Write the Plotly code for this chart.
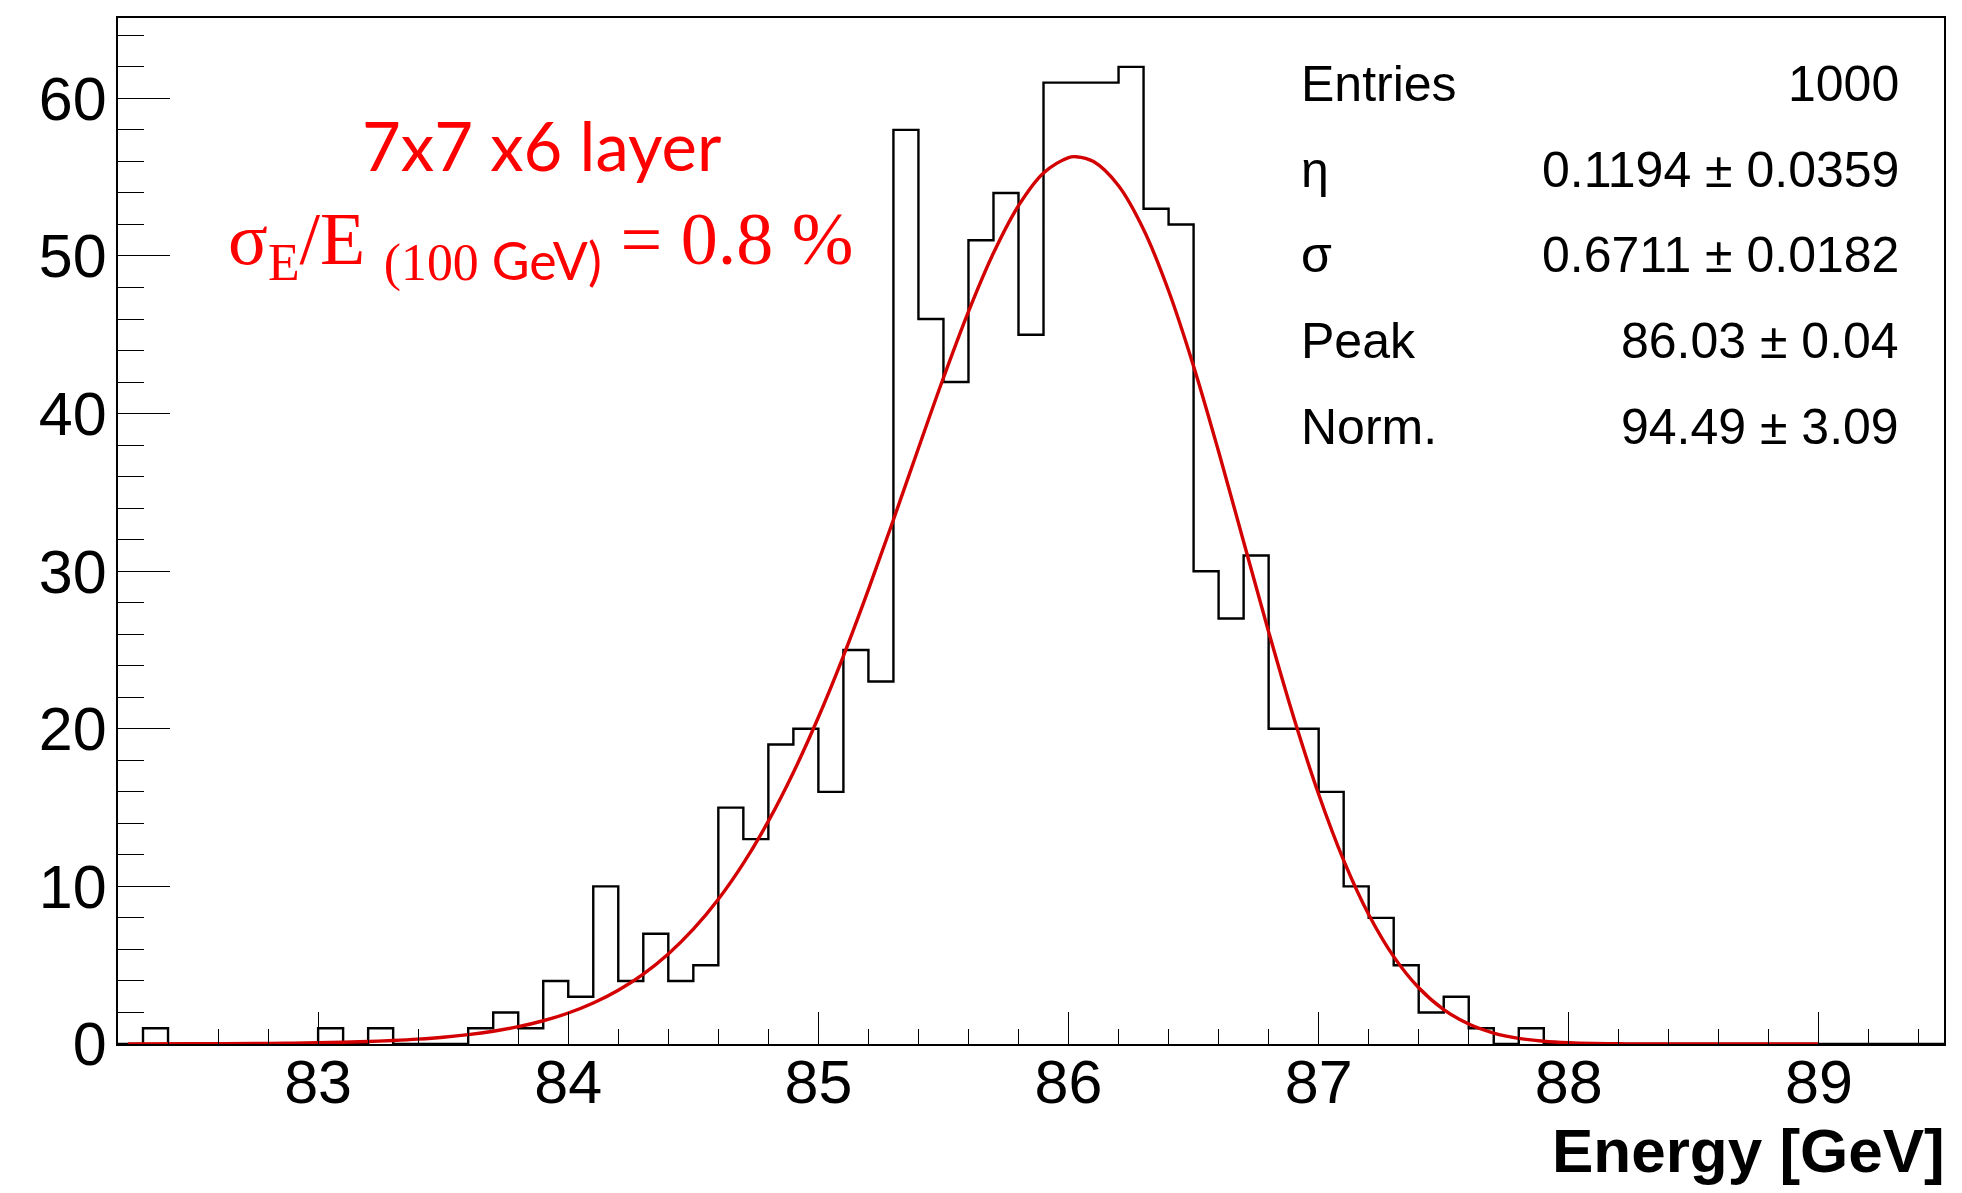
import numpy as np
import plotly.graph_objects as go

# ---------------- data ----------------
BIN_START = 82.2
BIN_WIDTH = 0.1
counts = [0, 1, 0, 0, 0, 0, 0, 0, 1, 0,          # 82.2 - 83.1
          1, 0, 0, 0, 1, 2, 1, 4, 3, 10,         # 83.2 - 84.1
          4, 7, 4, 5, 15, 13, 19, 20, 16, 25,    # 84.2 - 85.1
          23, 58, 46, 42, 51, 54, 45, 61, 61, 61,  # 85.2 - 86.1
          62, 53, 52, 30, 27, 31, 20, 20, 16, 10,  # 86.2 - 87.1
          8, 5, 2, 3, 1, 0, 1, 0, 0, 0,          # 87.2 - 88.1
          0, 0, 0, 0, 0, 0, 0, 0, 0, 0,          # 88.2 - 89.1
          0, 0, 0]                               # 89.2 - 89.4

# fit curve (energy, counts)
fit_x = [82.24, 82.5, 82.8, 82.9, 83.0, 83.1, 83.2, 83.3, 83.4, 83.5, 83.6, 83.7,
         83.8, 83.9, 84.0, 84.1, 84.2, 84.3, 84.4, 84.5, 84.6, 84.7, 84.8, 84.9,
         85.0, 85.1, 85.2, 85.3, 85.4, 85.5, 85.6, 85.7, 85.8, 85.9, 86.0, 86.03,
         86.1, 86.2, 86.3, 86.4, 86.5, 86.6, 86.7, 86.8, 86.9, 87.0, 87.1, 87.2,
         87.3, 87.4, 87.5, 87.6, 87.7, 87.8, 87.9, 88.0, 88.1, 88.2, 88.3, 88.5, 89.0]
fit_y = [0.005, 0.013, 0.039, 0.056, 0.080, 0.114, 0.160, 0.224, 0.312, 0.432, 0.593, 0.810,
         1.098, 1.476, 1.967, 2.604, 3.416, 4.439, 5.714, 7.284, 9.187, 11.463, 14.138, 17.230,
         20.730, 24.615, 28.825, 33.263, 37.800, 42.272, 46.473, 50.189, 53.192, 55.270, 56.244, 56.30,
         55.989, 54.456, 51.683, 47.796, 43.009, 37.593, 31.868, 26.150, 20.729, 15.843, 11.646, 8.214,
         5.543, 3.569, 2.186, 1.268, 0.696, 0.358, 0.173, 0.078, 0.032, 0.012, 0.004, 0.0, 0.0]

stats_labels = ["Entries", "η", "σ", "Peak", "Norm."]
stats_values = ["1000", "0.1194 ± 0.0359", "0.6711 ± 0.0182", "86.03 ± 0.04", "94.49 ± 3.09"]

x_ticks = [83, 84, 85, 86, 87, 88, 89]
y_ticks = [0, 10, 20, 30, 40, 50, 60]
X_RANGE = [82.2, 89.5]
Y_RANGE = [0, 65.1]

# ---------------- figure ----------------
OFF = 8                      # page body margin
W, H = 1962 - 2 * OFF, 1193 - 2 * OFF
# plot area in window pixels
L_w, R_w, T_w, B_w = 118, 1946, 16, 1044.3
L, R, T, B = L_w - OFF, R_w - OFF, T_w - OFF, B_w - OFF

def px(xw):
    return (xw - OFF - L) / (R - L)

def py(yw):
    return (B - (yw - OFF)) / (B - T)

edges = BIN_START + BIN_WIDTH * np.arange(len(counts) + 1)
hist_y = list(counts) + [counts[-1]]

fig = go.Figure()
fig.add_trace(go.Scatter(x=edges, y=hist_y, mode="lines", line_shape="hv",
                         line=dict(color="black", width=2.4), hoverinfo="skip",
                         showlegend=False))
fig.add_trace(go.Scatter(x=fit_x, y=fit_y, mode="lines", line_shape="spline",
                         line=dict(color="#d20000", width=3.4), hoverinfo="skip",
                         showlegend=False))

tickfont = dict(family="Liberation Sans, Arial, sans-serif", size=61, color="black")

fig.update_xaxes(range=X_RANGE, tickvals=x_ticks, ticktext=[str(v) for v in x_ticks],
                 ticks="inside", ticklen=32, tickwidth=1.4, tickcolor="black",
                 minor=dict(dtick=0.2, tick0=0, ticks="inside", ticklen=15,
                            tickwidth=1.2, tickcolor="black", showgrid=False),
                 showline=True, linecolor="black", linewidth=2.2, mirror=True,
                 showgrid=False, zeroline=False, tickfont=tickfont,
                 ticklabelstandoff=-16)
fig.update_yaxes(range=Y_RANGE, tickvals=y_ticks, ticktext=[str(v) for v in y_ticks],
                 ticks="inside", ticklen=52, tickwidth=1.4, tickcolor="black",
                 minor=dict(dtick=2, tick0=0, ticks="inside", ticklen=26,
                            tickwidth=1.2, tickcolor="black", showgrid=False),
                 showline=True, linecolor="black", linewidth=2.2, mirror=True,
                 showgrid=False, zeroline=False, tickfont=tickfont,
                 ticklabelstandoff=-3)

annotations = []
# x-axis title
annotations.append(dict(text="<b>Energy [GeV]</b>", x=px(1949), y=py(1151),
                        xref="paper", yref="paper", xanchor="right", yanchor="middle",
                        showarrow=False,
                        font=dict(family="Liberation Sans, Arial, sans-serif", size=62,
                                  color="black")))
# stats box
row0, dy = 82.3, 85.8
for i, (lab, val) in enumerate(zip(stats_labels, stats_values)):
    yc = row0 + i * dy
    annotations.append(dict(text=lab, x=px(1300), y=py(yc), xref="paper", yref="paper",
                            xanchor="left", yanchor="middle", showarrow=False,
                            font=dict(family="Liberation Sans, Arial, sans-serif",
                                      size=50, color="black")))
    annotations.append(dict(text=val, x=px(1903), y=py(yc), xref="paper", yref="paper",
                            xanchor="right", yanchor="middle", showarrow=False,
                            font=dict(family="Liberation Sans, Arial, sans-serif",
                                      size=50, color="black")))
# red labels
annotations.append(dict(text="7x7 x6 layer", x=px(542), y=py(143),
                        xref="paper", yref="paper", xanchor="center", yanchor="middle",
                        showarrow=False,
                        font=dict(family="Lato, sans-serif", size=67, color="#ff0000")))
serif = "font-family:'Liberation Serif', 'Times New Roman', serif"
line2 = (f'<span style="{serif}">σ<sub>E</sub>/E </span>'
         f'<sub><span style="{serif}">(100 </span>GeV)</sub>'
         f'<span style="{serif}"> = 0.8 %</span>')
annotations.append(dict(text=line2, x=px(226), y=py(244),
                        xref="paper", yref="paper", xanchor="left", yanchor="middle",
                        showarrow=False,
                        font=dict(family="Lato, sans-serif", size=74, color="#ff0000")))

fig.update_layout(width=W, height=H, autosize=False,
                  margin=dict(l=L, r=W - R, t=T, b=H - B, pad=0),
                  paper_bgcolor="white", plot_bgcolor="white",
                  annotations=annotations, showlegend=False)

fig.write_html("out.html")
